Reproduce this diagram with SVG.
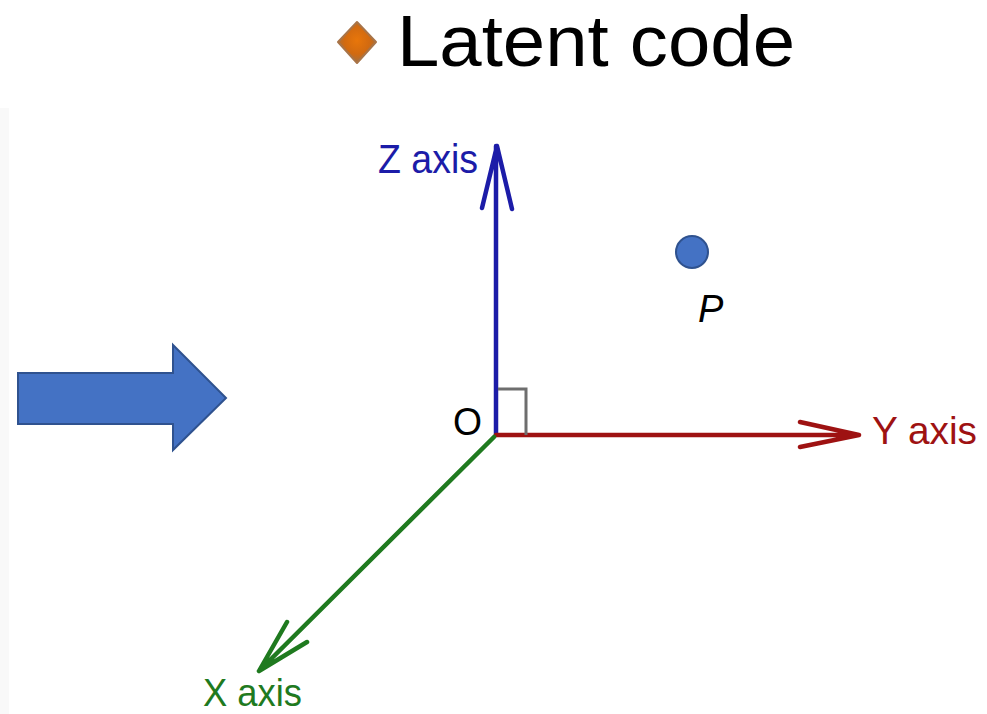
<svg xmlns="http://www.w3.org/2000/svg" width="987" height="714" viewBox="0 0 987 714">
<defs>
<radialGradient id="bul" cx="0.5" cy="0.45" r="0.55">
<stop offset="0" stop-color="#E8760A"/>
<stop offset="0.6" stop-color="#D26A10"/>
<stop offset="1" stop-color="#A5703F"/>
</radialGradient>
</defs>
<style>
.lbl{font-family:"Liberation Sans",Arial,sans-serif;}
.ax{fill:none;stroke-width:4.5;stroke-linecap:round;stroke-linejoin:round;}
</style>
<rect width="987" height="714" fill="#ffffff"/>
<rect x="0" y="108" width="9" height="606" fill="#F9F9F9"/>
<g id="title">
<path d="M357,22 L376,42 L357,63 L338,42 Z" fill="url(#bul)" stroke="#A87448" stroke-width="2" stroke-linejoin="round"/>
<text class="lbl" x="397" y="66" font-size="72" fill="#000" textLength="398" lengthAdjust="spacingAndGlyphs">Latent code</text>
</g>
<g id="block-arrow">
<path d="M18,373 L173,373 L173,345 L226,398 L173,450 L173,424 L18,424 Z" fill="#4472C4" stroke="#2F528F" stroke-width="2"/>
</g>
<g id="connectors">
<path class="ax" stroke="#1C1CA8" d="M496,435 L496,146 M482,208 L497,146 L512,209"/>
<path class="ax" stroke="#9E1212" d="M496,435 L859,435 M800,422 L859,435 L800,447"/>
<path class="ax" stroke="#1F7A1F" d="M494,437 L259,671 M287,622 L259,671 L307,642"/>
<path d="M498,389 L526,389 L526,435" fill="none" stroke="#6E6E6E" stroke-width="3"/>
</g>
<g id="z-label"><text class="lbl" x="378" y="173" font-size="40" fill="#1C1CA8" textLength="100" lengthAdjust="spacingAndGlyphs">Z axis</text></g>
<g id="y-label"><text class="lbl" x="872" y="444" font-size="38" fill="#9E1212" textLength="105" lengthAdjust="spacingAndGlyphs">Y axis</text></g>
<g id="x-label"><text class="lbl" x="203" y="706" font-size="38" fill="#1F7A1F" textLength="99" lengthAdjust="spacingAndGlyphs">X axis</text></g>
<g id="origin"><text class="lbl" x="453" y="435" font-size="39" fill="#000" textLength="29" lengthAdjust="spacingAndGlyphs">O</text></g>
<g id="point-p">
<circle cx="692" cy="252" r="16" fill="#4472C4" stroke="#2F528F" stroke-width="2"/>
<text class="lbl" x="698" y="322" font-size="38" font-style="italic" fill="#000">P</text>
</g>
</svg>
